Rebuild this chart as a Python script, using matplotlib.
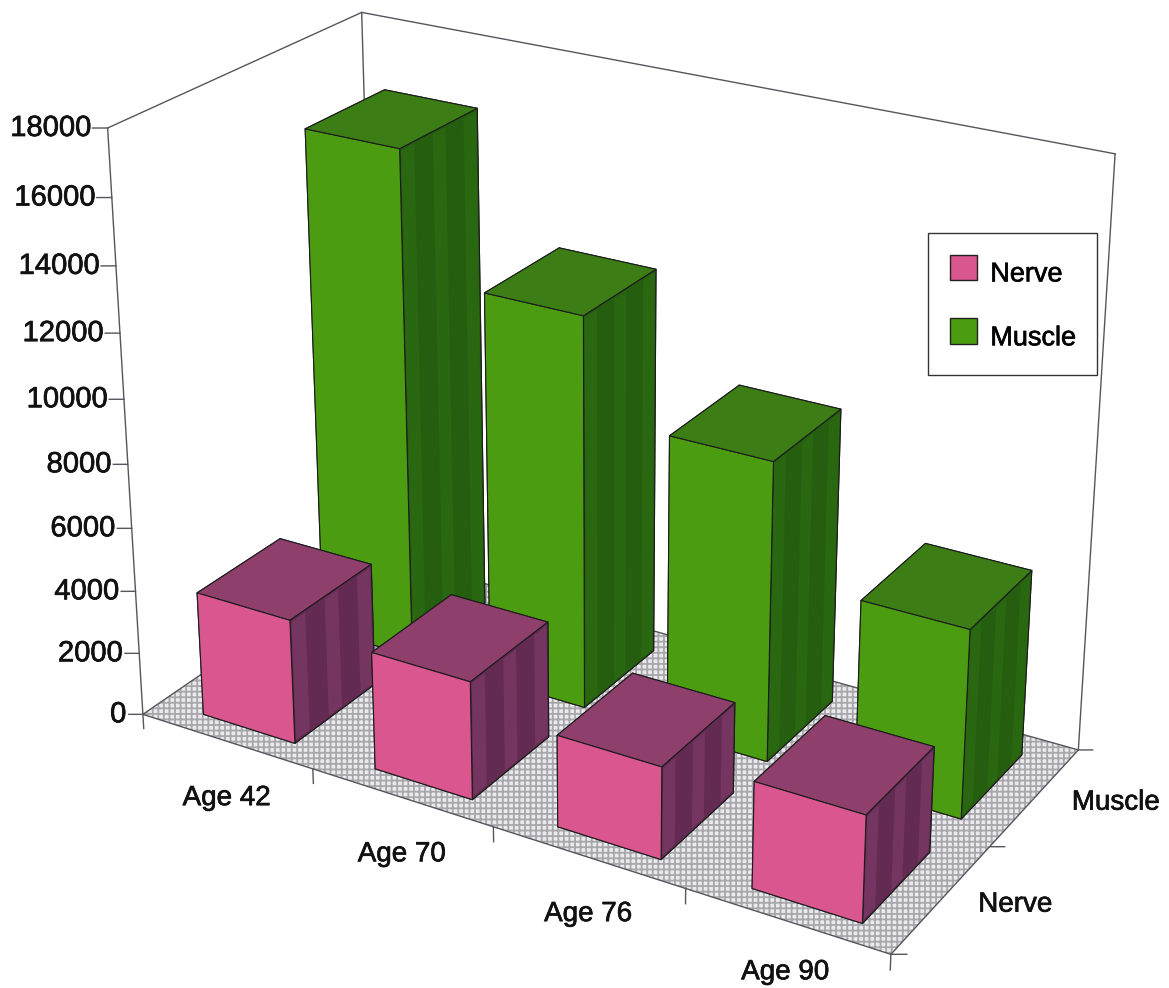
import matplotlib
matplotlib.use("Agg")
import matplotlib.pyplot as plt
import matplotlib.patheffects as pe
from matplotlib.patches import Patch, Rectangle
from mpl_toolkits.mplot3d import proj3d
from mpl_toolkits.mplot3d.art3d import Poly3DCollection

plt.rcParams['font.family'] = ['Liberation Sans', 'DejaVu Sans']
plt.rcParams['hatch.linewidth'] = 1.3

# --- data ---
ages = ["Age 42", "Age 70", "Age 76", "Age 90"]
tissues = ["Nerve", "Muscle"]
nerve = [3950, 3700, 2850, 3250]
muscle = [16150, 12350, 9350, 5850]
z_ticks = [0, 2000, 4000, 6000, 8000, 10000, 12000, 14000, 16000, 18000]

# front, top, side colours per series, plus the lighter side band
NERVE_COLS = ("#d9568f", "#8f3f6c", "#642b52", "#743660")
MUSCLE_COLS = ("#4c9c12", "#3c7d16", "#265e0f", "#2a6711")
AXIS_COL = "#55555f"
TEXT_FX = [pe.withStroke(linewidth=0.5, foreground="#111111")]

ZMAX = z_ticks[-1]
# scene box runs well past the top tick so the camera looks down from above the walls
Z_TOP = 27350
BAR_X0, BAR_W = 0.25, 0.54
BAR_Y0, BAR_D = 0.15, 0.67
N_BANDS = 5

fig = plt.figure(figsize=(11.69, 9.88), dpi=100, facecolor="white")
# oversized square axes so nothing in the 3d scene gets cropped
size = 1400
ax = fig.add_axes([(587.1 - size / 2) / 1169, (988 - 309.9 - size / 2) / 988,
                   size / 1169, size / 988], projection="3d")
ax.set_axis_off()
ax.computed_zorder = False
ax.set_proj_type("persp", focal_length=0.4404)
ax.view_init(elev=22.3, azim=-59.2)
ax.set_xlim(0, len(ages))
ax.set_ylim(0, len(tissues))
ax.set_zlim(0, Z_TOP)
ax.set_box_aspect((888, 442, 1008), zoom=0.9806)

nx, ny = len(ages), len(tissues)

# floor
floor = Poly3DCollection([[(0, 0, 0), (nx, 0, 0), (nx, ny, 0), (0, ny, 0)]],
                         facecolor="#eaeaec", edgecolor="#a8a8ac", hatch="+++",
                         linewidth=0, zorder=1)
ax.add_collection3d(floor)


def line3d(xs, ys, zs, lw=1.0, z=2):
    ax.plot(xs, ys, zs, color=AXIS_COL, lw=lw, zorder=z)


# floor outline and walls
line3d([0, nx, nx, 0, 0], [0, 0, ny, ny, 0], [0, 0, 0, 0, 0])
line3d([0, 0], [0, 0], [0, ZMAX])
line3d([0, 0], [ny, ny], [0, ZMAX])
line3d([nx, nx], [ny, ny], [0, ZMAX])
line3d([0, 0, nx], [0, ny, ny], [ZMAX, ZMAX, ZMAX])

# ticks
for t in z_ticks:
    line3d([0, -0.058], [0, -0.035], [t, t])
for i in range(nx + 1):
    line3d([i, i], [0, 0], [0, -470])
for j in range(ny + 1):
    line3d([nx, nx + 0.058], [j, j + 0.035], [0, 0])

# bars, back row first and left to right so the nearer ones sit on top
order = 10
for j, (vals, cols) in reversed(list(enumerate([(nerve, NERVE_COLS), (muscle, MUSCLE_COLS)]))):
    front, top, side, band = cols
    for i, v in enumerate(vals):
        x0 = i + BAR_X0
        y0 = j + BAR_Y0
        # bar3d face order: bottom, top, front, back, left, right
        face_cols = [front, top, front, side, side, side]
        bar = ax.bar3d(x0, y0, 0, BAR_W, BAR_D, v,
                       color=face_cols, edgecolor="#1c1c1c", linewidth=0.8, shade=False)
        bar.set_zorder(order)
        order += 1
        # vertical banding on the side face, kept just inside the outline
        step = BAR_D / N_BANDS
        x1 = x0 + BAR_W
        for b in range(0, N_BANDS, 2):
            ya, yb = y0 + b * step + 0.012, y0 + (b + 1) * step - 0.012
            strip = Poly3DCollection([[(x1, ya, 80), (x1, yb, 80), (x1, yb, v - 80), (x1, ya, v - 80)]],
                                     facecolor=band, edgecolor="none", zorder=order)
            ax.add_collection3d(strip)
        order += 1


def label(text, x, y, z, dx, dy, ha="center", size=20):
    px, py, _ = proj3d.proj_transform(x, y, z, ax.get_proj())
    ax.annotate(text, (px, py), xytext=(dx, dy), textcoords="offset points",
                ha=ha, va="center", fontsize=size, color="#111111",
                annotation_clip=False, path_effects=TEXT_FX)


for t in z_ticks:
    label(str(t), 0, 0, t, -12, 0, ha="right", size=21)
for i, name in enumerate(ages):
    # last label would run off the bottom edge otherwise
    label(name, i + 0.5, 0, 0, -1 if i == 3 else 0, -37 if i == 3 else -41)
for j, name in enumerate(tissues):
    label(name, nx, j + 0.5, 0, 53 + j * 5, -4)

# legend box is a fixed rectangle, entries go on top of it
fig.add_artist(Rectangle((928 / 1169, 1 - 375 / 988), 169 / 1169, 142 / 988,
                         transform=fig.transFigure, facecolor="white",
                         edgecolor="#333333", linewidth=1.0, zorder=4))
handles = [Patch(facecolor=NERVE_COLS[0], edgecolor="#222222", label=tissues[0]),
           Patch(facecolor=MUSCLE_COLS[0], edgecolor="#222222", label=tissues[1])]
leg = fig.legend(handles=handles, loc="upper left", bbox_to_anchor=(928 / 1169, 1 - 233 / 988),
                 borderaxespad=0, fontsize=19.5, frameon=False,
                 handlelength=1.0, handleheight=1.05, handletextpad=0.5,
                 labelspacing=1.33, borderpad=0.8)
leg.set_zorder(5)
for txt in leg.get_texts():
    txt.set_path_effects(TEXT_FX)
    txt.set_y(-5)

fig.savefig("out.png", dpi=100, facecolor=fig.get_facecolor())
